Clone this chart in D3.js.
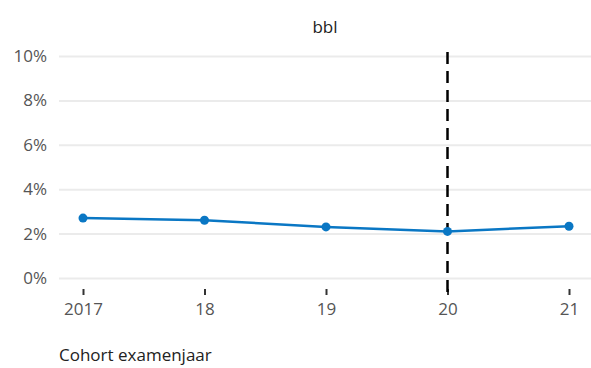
<!DOCTYPE html>
<html><head><meta charset="utf-8">
<script src="https://cdn.jsdelivr.net/npm/d3@7"></script>
<style>body{margin:0;background:#fff}svg{display:block}text{font-family:"Open Sans",sans-serif}</style>
</head><body><svg id="c" width="591" height="368"></svg>
<script>
const categories = ["2017","18","19","20","21"];
const values = [2.7, 2.6, 2.3, 2.1, 2.33];
const yTicks = [0,2,4,6,8,10];
const title = "bbl";
const xTitle = "Cohort examenjaar";
const markerCategory = "20";

const svg = d3.select("#c");
const x = d3.scalePoint().domain(categories).range([83,569]);
const y = d3.scaleLinear().domain([0,10]).range([278,56]);
const gx0 = 59, gx1 = 591;

svg.append("text").attr("x",325).attr("y",33).attr("text-anchor","middle")
  .attr("font-size",17).attr("fill","#222").text(title);

const yAxis = svg.append("g").attr("transform",`translate(${gx0},0)`)
  .call(d3.axisLeft(y).tickValues(yTicks).tickSize(-(gx1-gx0)).tickPadding(12).tickFormat(d=>d+"%"));
yAxis.select(".domain").remove();
yAxis.selectAll(".tick line").attr("stroke","#ebebeb").attr("stroke-width",2);
yAxis.selectAll(".tick text").attr("font-size",17).attr("fill","#555").attr("font-family","Open Sans, sans-serif");

const xAxis = svg.append("g").attr("transform","translate(0,289)")
  .call(d3.axisBottom(x).tickSize(6).tickPadding(8));
xAxis.select(".domain").remove();
xAxis.selectAll(".tick line").attr("stroke","#333").attr("stroke-width",2);
xAxis.selectAll(".tick text").attr("font-size",17).attr("fill","#555").attr("font-family","Open Sans, sans-serif");

svg.append("line").attr("x1",x(markerCategory)).attr("x2",x(markerCategory))
  .attr("y1",52).attr("y2",296).attr("stroke","#000").attr("stroke-width",2.5)
  .attr("stroke-dasharray","12,7");

const line = d3.line().x((d,i)=>x(categories[i])).y(d=>y(d));
svg.append("path").datum(values).attr("d",line).attr("fill","none")
  .attr("stroke","#0a77c4").attr("stroke-width",2.5);
svg.selectAll("circle.p").data(values).join("circle").attr("class","p")
  .attr("cx",(d,i)=>x(categories[i])).attr("cy",d=>y(d)).attr("r",4.5).attr("fill","#0a77c4");

svg.append("text").attr("x",59).attr("y",361).attr("font-size",17).attr("fill","#222").text(xTitle);
</script></body></html>
